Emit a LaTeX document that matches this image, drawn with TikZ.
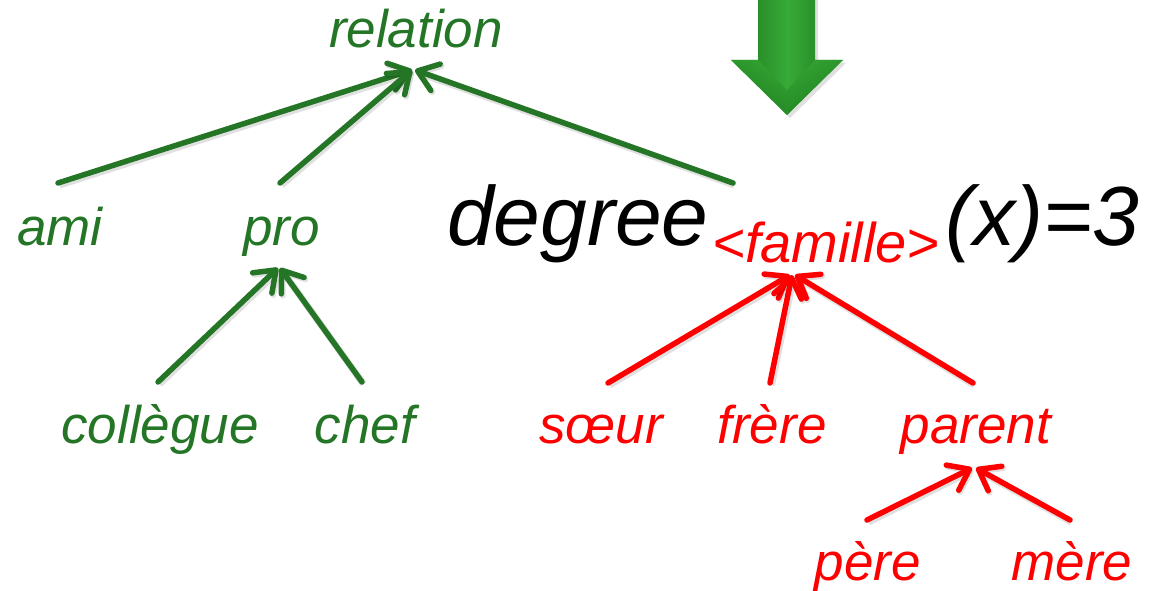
\documentclass[tikz,border=0pt]{standalone}
\usepackage{fontspec}
\setmainfont{Liberation Sans}
\usetikzlibrary{arrows.meta}
\definecolor{treegreen}{RGB}{36,118,38}
\definecolor{treered}{RGB}{255,0,0}
\definecolor{bigdark}{RGB}{26,120,26}
\definecolor{biglight}{RGB}{56,170,56}
\tikzset{
  lbl/.style={anchor=base, inner sep=0pt, font=\fontsize{53}{60}\selectfont\itshape},
  glbl/.style={lbl, text=treegreen},
  rlbl/.style={lbl, text=treered},
  edge/.style={line width=5.5pt, line cap=round,
    -{Straight Barb[length=19pt,width=28pt,line width=5.5pt,round]},
    preaction={draw=black, draw opacity=0.12, line width=7pt,
      transform canvas={shift={(1.5pt,-2pt)}}}},
  gedge/.style={edge, draw=treegreen},
  redge/.style={edge, draw=treered},
}
\begin{document}
\begin{tikzpicture}[x=1pt,y=-1pt]
\useasboundingbox (0,0) rectangle (1161,591);

% downward block arrow with a soft shadow and a bevelled shading
\fill[black, opacity=0.12] (761,0) -- (818,0) -- (818,63) -- (846,63) -- (790,118) -- (734,63) -- (761,63) -- cycle;
\shade[left color=bigdark, right color=bigdark, middle color=biglight]
  (758,0) -- (815,0) -- (815,60) -- (843,60) -- (787,115) -- (731,60) -- (758,60) -- cycle;
\shade[top color=biglight, bottom color=bigdark, opacity=0.6]
  (731,60) -- (758,60) -- (787,90) -- (815,60) -- (843,60) -- (787,115) -- cycle;

% green tree
\node[glbl] (relation) at (416,48) {relation};
\node[glbl] (ami) at (60,245) {ami};
\node[glbl] (pro) at (281.5,245) {pro};
\node[glbl] (collegue) at (160,443) {collègue};
\node[glbl] (chef) at (365,443) {chef};

% formula
\node[anchor=base west, inner sep=0pt, font=\fontsize{84}{90}\selectfont\itshape] (degree) at (447,245) {degree};
\node[anchor=base, inner sep=0pt, text=treered, font=\fontsize{56}{60}\selectfont\itshape] (famille) at (826,262) {<famille>};
\node[anchor=base west, inner sep=0pt, font=\fontsize{84}{90}\selectfont\itshape] (eq) at (945,245) {(x)=3};

% red tree
\node[rlbl] (soeur) at (601,443) {sœur};
\node[rlbl] (frere) at (772,443) {frère};
\node[rlbl] (parent) at (976,443) {parent};
\node[rlbl] (pere) at (868,580) {père};
\node[rlbl] (mere) at (1072,580) {mère};

% green connectors
\draw[gedge] ([shift={(-2,-62)}]ami.base) -- ([shift={(-4,22)}]relation.base);
\draw[gedge] ([shift={(-1.5,-62)}]pro.base) -- ([shift={(-4,22)}]relation.base);
\draw[gedge] ([shift={(286,-62)}]degree.base west) -- ([shift={(-1,22)}]relation.base);
\draw[gedge] ([shift={(-2,-61)}]collegue.base) -- ([shift={(-3.5,23)}]pro.base);
\draw[gedge] ([shift={(-3,-61)}]chef.base) -- ([shift={(-1.5,23)}]pro.base);

% red connectors
\draw[redge] ([shift={(7,-60)}]soeur.base) -- ([shift={(-36,13)}]famille.base);
\draw[redge] ([shift={(-2,-60)}]frere.base) -- ([shift={(-34,13)}]famille.base);
\draw[redge] ([shift={(-3,-60)}]parent.base) -- ([shift={(-31,13)}]famille.base);
\draw[redge] ([shift={(-1,-60)}]pere.base) -- ([shift={(-4,25)}]parent.base);
\draw[redge] ([shift={(-2,-60)}]mere.base) -- ([shift={(0,25)}]parent.base);
\end{tikzpicture}
\end{document}
